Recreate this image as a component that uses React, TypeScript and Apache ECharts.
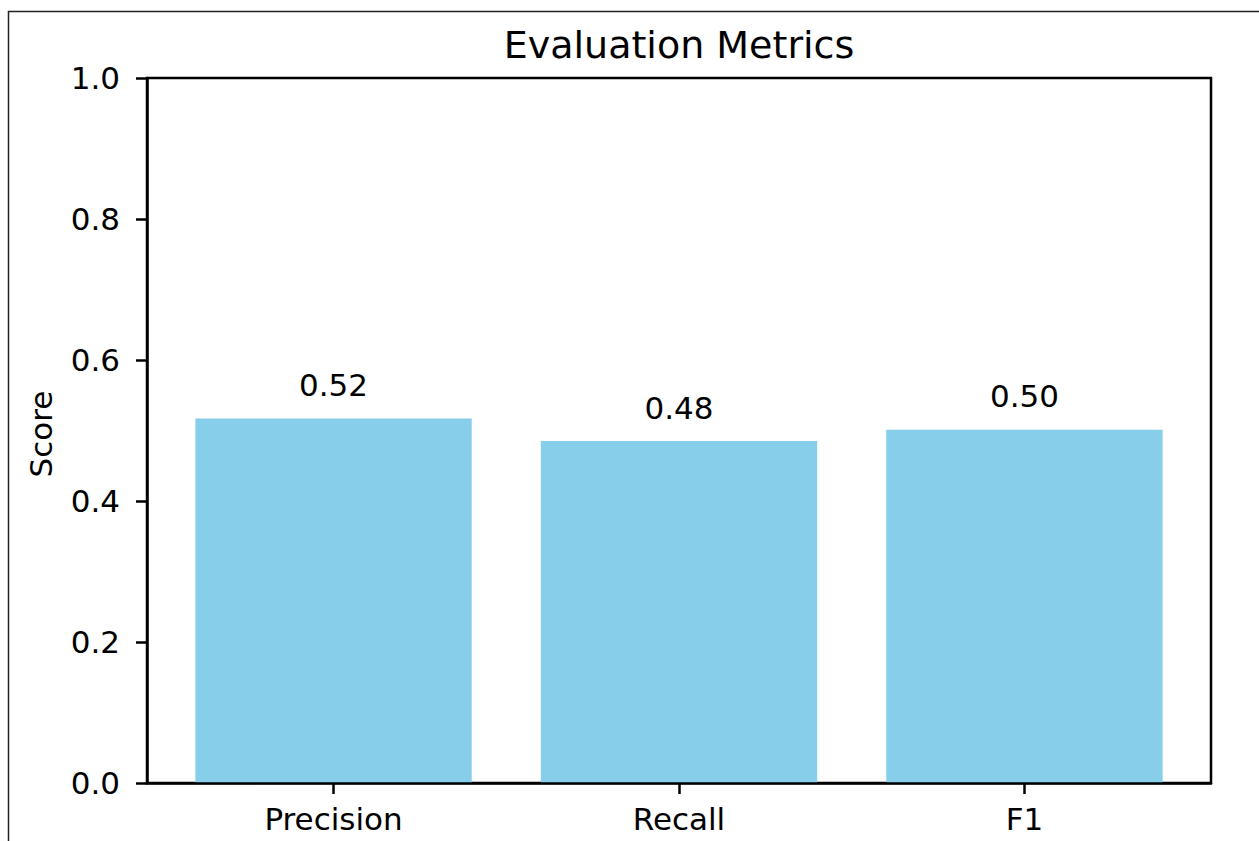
import React, { useEffect, useRef } from "react";
import * as echarts from "echarts";

const categories = ["Precision", "Recall", "F1"];
const scores = [0.517, 0.485, 0.501];
const yTicks = [0, 0.2, 0.4, 0.6, 0.8, 1.0];
const titleText = "Evaluation Metrics";
const yLabel = "Score";

const FONT = "'DejaVu Sans', sans-serif";
const W = 1259;
const H = 841;
const GRID = { left: 147, top: 78, width: 1064, height: 705 };
const X_MIN = -0.54;
const X_MAX = 2.54;

export default function App() {
  const ref = useRef<HTMLDivElement>(null);

  useEffect(() => {
    if (!ref.current) return;
    const chart = echarts.init(ref.current, null, { renderer: "svg" });
    const barWidth = (0.8 * GRID.width) / (X_MAX - X_MIN);
    const tickIdx = categories.map((_, i) => i);
    chart.setOption({
      animation: false,
      backgroundColor: "#fff",
      grid: {
        ...GRID,
        show: true,
        borderColor: "#000",
        borderWidth: 2.5,
        backgroundColor: "transparent",
      },
      xAxis: {
        type: "value",
        min: X_MIN,
        max: X_MAX,
        z: 10,
        splitLine: { show: false },
        axisLine: { show: true, onZero: false, lineStyle: { color: "#000", width: 2.5 } },
        axisTick: {
          show: true,
          customValues: tickIdx,
          length: 11,
          lineStyle: { color: "#000", width: 2.5 },
        },
        axisLabel: {
          customValues: tickIdx,
          formatter: (v: number) => categories[Math.round(v)] ?? "",
          fontSize: 31,
          fontFamily: FONT,
          color: "#000",
          margin: 20,
        },
      },
      yAxis: {
        type: "value",
        min: yTicks[0],
        max: yTicks[yTicks.length - 1],
        interval: 0.2,
        z: 10,
        position: "left",
        splitLine: { show: false },
        axisLine: { show: true, onZero: false, lineStyle: { color: "#000", width: 2.5 } },
        axisTick: { show: true, length: 11, lineStyle: { color: "#000", width: 2.5 } },
        axisLabel: {
          formatter: (v: number) => v.toFixed(1),
          fontSize: 31,
          fontFamily: FONT,
          color: "#000",
          margin: 27,
        },
      },
      series: [
        {
          type: "bar",
          data: scores.map((v, i) => [i, v]),
          barWidth,
          itemStyle: { color: "#87CEEB" },
          label: {
            show: true,
            position: "top",
            distance: 18,
            formatter: (p: any) => Number(p.value[1]).toFixed(2),
            fontSize: 31,
            fontFamily: FONT,
            color: "#000",
          },
        },
      ],
      graphic: [
        {
          type: "rect",
          z: 100,
          silent: true,
          shape: { x: 8.5, y: 11.5, width: 1400, height: 1000 },
          style: { fill: "none", stroke: "#222", lineWidth: 1.5 },
        },
        {
          type: "text",
          x: GRID.left + GRID.width / 2,
          y: 44.5,
          style: {
            text: titleText,
            fontSize: 38,
            fontFamily: FONT,
            fill: "#000",
            textAlign: "center",
            textVerticalAlign: "middle",
            align: "center",
            verticalAlign: "middle",
          },
        },
        {
          type: "text",
          x: 41,
          y: 434,
          rotation: Math.PI / 2,
          style: {
            text: yLabel,
            fontSize: 31,
            fontFamily: FONT,
            fill: "#000",
            textAlign: "center",
            textVerticalAlign: "middle",
            align: "center",
            verticalAlign: "middle",
          },
        },
      ],
    });
    return () => chart.dispose();
  }, []);

  return (
    <div
      ref={ref}
      style={{ position: "absolute", left: 0, top: 0, width: W, height: H }}
    />
  );
}
